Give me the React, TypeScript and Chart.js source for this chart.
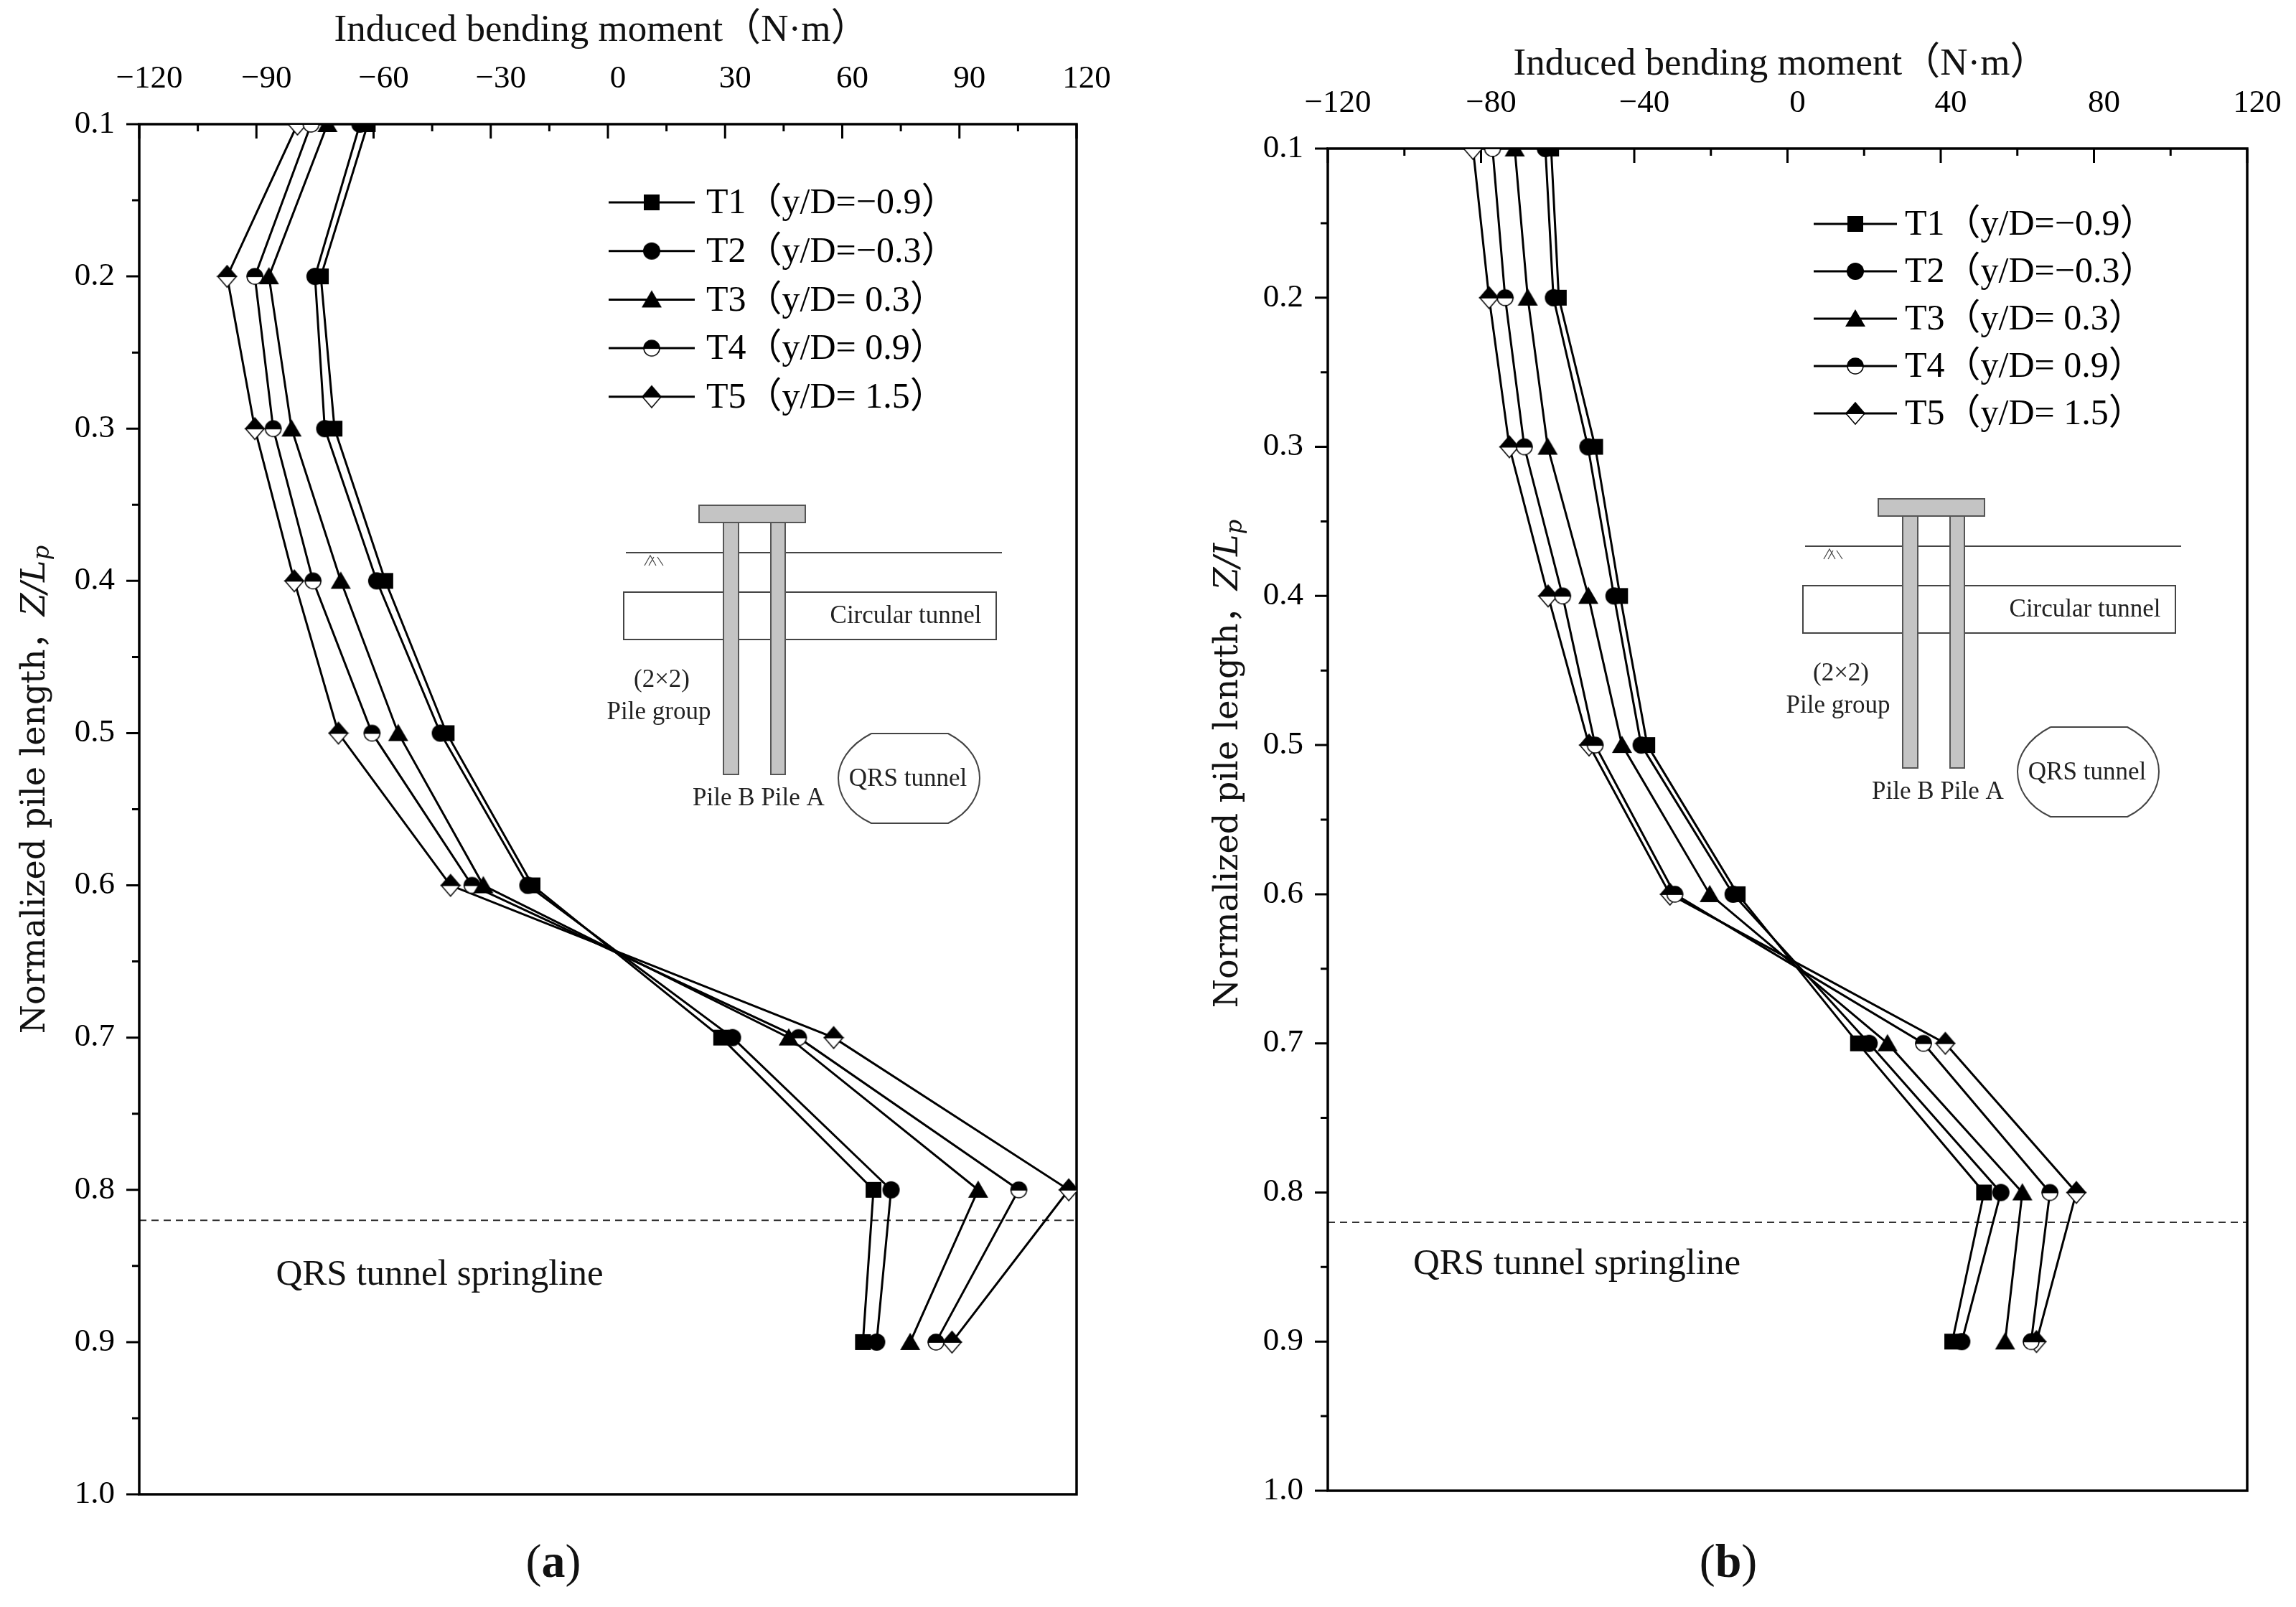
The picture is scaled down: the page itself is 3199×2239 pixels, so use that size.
import React, { useEffect, useRef } from 'react';
import { Chart, registerables } from 'chart.js';

Chart.register(...registerables);

// normalized pile length Z/Lp (shared by every series)
const depth = [0.1, 0.2, 0.3, 0.4, 0.5, 0.6, 0.7, 0.8, 0.9];

const seriesNames = ['T1（y/D=−0.9）', 'T2（y/D=−0.3）', 'T3（y/D= 0.3）', 'T4（y/D= 0.9）', 'T5（y/D= 1.5）'];

// panel (a): induced bending moment, N·m
const momentA_T1 = [-61.5, -73.5, -70, -57, -41.3, -19.3, 29, 68, 65.3];
const momentA_T2 = [-63.5, -75, -72.5, -59.2, -42.9, -20.5, 31.9, 72.5, 68.8];
const momentA_T3 = [-71.8, -86.8, -81, -68.4, -53.7, -31.9, 46.3, 94.8, 77.4];
const momentA_T4 = [-76, -90.4, -85.7, -75.5, -60.4, -34.8, 48.8, 105.2, 84];
const momentA_T5 = [-79.5, -97.5, -90.4, -80.3, -69, -40.3, 57.8, 118, 88.1];

// panel (b)
const momentB_T1 = [-61.7, -59.7, -50.2, -43.7, -36.6, -13, 18.4, 51.3, 43];
const momentB_T2 = [-63.2, -61.1, -52.1, -45.3, -38.2, -14.2, 21.3, 55.7, 45.5];
const momentB_T3 = [-71.2, -67.8, -62.6, -52, -43.2, -20.3, 26.1, 61.3, 56.8];
const momentB_T4 = [-77, -73.7, -68.7, -58.7, -50.2, -29.4, 35.5, 68.5, 63.6];
const momentB_T5 = [-82.1, -77.9, -72.6, -62.5, -51.8, -30.7, 41.2, 75.4, 65];

const springlineDepth = 0.82;

const SERIF = '"Liberation Serif", "Times New Roman", "Noto Sans CJK SC", serif';
const WIDE_SERIF = '"DejaVu Serif", "Noto Sans CJK SC", serif';

function makeMarker(kind: string): HTMLCanvasElement {
  const c = document.createElement('canvas');
  const w = 30;
  const h = kind === 'diamond' ? 34 : 30;
  c.width = w;
  c.height = h;
  const g = c.getContext('2d')!;
  const cx = w / 2;
  const cy = h / 2;
  g.fillStyle = '#000';
  g.strokeStyle = '#000';
  g.lineWidth = 1.5;
  if (kind === 'square') {
    g.fillRect(cx - 11, cy - 11, 22, 22);
  } else if (kind === 'circle') {
    g.beginPath();
    g.arc(cx, cy, 12, 0, Math.PI * 2);
    g.fill();
  } else if (kind === 'triangle') {
    g.beginPath();
    g.moveTo(cx, cy - 13);
    g.lineTo(cx + 14, cy + 11);
    g.lineTo(cx - 14, cy + 11);
    g.closePath();
    g.fill();
  } else if (kind === 'halfCircle') {
    g.beginPath();
    g.arc(cx, cy, 11, 0, Math.PI);
    g.closePath();
    g.fillStyle = '#fff';
    g.fill();
    g.stroke();
    g.beginPath();
    g.arc(cx, cy, 11, Math.PI, Math.PI * 2);
    g.closePath();
    g.fillStyle = '#000';
    g.fill();
    g.stroke();
  } else {
    // black up-triangle over a white down-triangle
    g.beginPath();
    g.moveTo(cx - 13, cy);
    g.lineTo(cx + 13, cy);
    g.lineTo(cx, cy + 15);
    g.closePath();
    g.fillStyle = '#fff';
    g.fill();
    g.stroke();
    g.beginPath();
    g.moveTo(cx - 13, cy);
    g.lineTo(cx + 13, cy);
    g.lineTo(cx, cy - 15);
    g.closePath();
    g.fillStyle = '#000';
    g.fill();
    g.stroke();
  }
  return c;
}

interface PanelSpec {
  series: number[][];
  xStep: number;
  left: number;
  width: number;
  area: { left: number; top: number; right: number; bottom: number };
  xTitle: { x: number; y: number };
  yTitle: { x: number; y: number };
  legend: { dx: number; dy: number; lineLen: number; textDx: number; rowGap: number };
  inset: { dx: number; dy: number };
  springline: { x: number; y: number };
  tag: string;
  tagPos: { x: number; y: number };
}

const HEIGHT = 2239;

const panelA: PanelSpec = {
  series: [momentA_T1, momentA_T2, momentA_T3, momentA_T4, momentA_T5],
  xStep: 30,
  left: 0,
  width: 1600,
  area: { left: 194, top: 173, right: 1500, bottom: 2082 },
  xTitle: { x: 838, y: 43 },
  yTitle: { x: 50, y: 1100 },
  legend: { dx: 654, dy: 109, lineLen: 120, textDx: 790, rowGap: 67.7 },
  inset: { dx: 780, dy: 531 },
  springline: { x: -85, y: 0.856 },
  tag: 'a',
  tagPos: { x: 771, y: 2180 },
};

const panelB: PanelSpec = {
  series: [momentB_T1, momentB_T2, momentB_T3, momentB_T4, momentB_T5],
  xStep: 40,
  left: 1600,
  width: 1599,
  area: { left: 250, top: 207, right: 1531, bottom: 2077 },
  xTitle: { x: 881, y: 90 },
  yTitle: { x: 112, y: 1064 },
  legend: { dx: 677, dy: 105, lineLen: 116, textDx: 804, rowGap: 66 },
  inset: { dx: 767, dy: 488 },
  springline: { x: -97.7, y: 0.848 },
  tag: 'b',
  tagPos: { x: 808, y: 2180 },
};

function fmtX(v: number) {
  return v < 0 ? '−' + Math.abs(v) : String(v);
}

function drawInset(ctx: CanvasRenderingContext2D, ox: number, oy: number) {
  ctx.save();
  ctx.strokeStyle = '#444';
  ctx.lineWidth = 2;
  // ground surface
  ctx.beginPath();
  ctx.moveTo(ox - 102, oy + 66);
  ctx.lineTo(ox + 422, oy + 66);
  ctx.stroke();
  // soil hatch
  ctx.lineWidth = 1.2;
  ctx.beginPath();
  ctx.moveTo(ox - 76, oy + 84);
  ctx.lineTo(ox - 68, oy + 70);
  ctx.lineTo(ox - 60, oy + 84);
  ctx.moveTo(ox - 70, oy + 84);
  ctx.lineTo(ox - 63, oy + 72);
  ctx.moveTo(ox - 58, oy + 72);
  ctx.lineTo(ox - 50, oy + 84);
  ctx.stroke();
  // circular tunnel box
  ctx.lineWidth = 2;
  ctx.strokeRect(ox - 105, oy + 121, 519, 66);
  // piles and cap
  ctx.fillStyle = '#c4c4c4';
  ctx.strokeStyle = '#555';
  ctx.fillRect(ox + 34, oy + 24, 21, 351);
  ctx.strokeRect(ox + 34, oy + 24, 21, 351);
  ctx.fillRect(ox + 100, oy + 24, 20, 351);
  ctx.strokeRect(ox + 100, oy + 24, 20, 351);
  ctx.fillRect(ox, oy, 148, 24);
  ctx.strokeRect(ox, oy, 148, 24);
  // QRS tunnel outline
  ctx.strokeStyle = '#444';
  ctx.beginPath();
  ctx.moveTo(ox + 240, oy + 318);
  ctx.lineTo(ox + 347, oy + 318);
  ctx.bezierCurveTo(ox + 380, oy + 335, ox + 391, oy + 360, ox + 391, oy + 380);
  ctx.bezierCurveTo(ox + 391, oy + 402, ox + 378, oy + 428, ox + 347, oy + 443);
  ctx.lineTo(ox + 240, oy + 443);
  ctx.bezierCurveTo(ox + 207, oy + 428, ox + 194, oy + 402, ox + 194, oy + 380);
  ctx.bezierCurveTo(ox + 194, oy + 360, ox + 207, oy + 335, ox + 240, oy + 318);
  ctx.stroke();
  // labels
  ctx.fillStyle = '#222';
  ctx.font = `35px ${SERIF}`;
  ctx.textAlign = 'center';
  ctx.textBaseline = 'middle';
  ctx.fillText('Circular tunnel', ox + 288, oy + 155);
  ctx.fillText('(2×2)', ox - 52, oy + 244);
  ctx.fillText('Pile group', ox - 56, oy + 289);
  ctx.fillText('Pile B Pile A', ox + 83, oy + 409);
  ctx.fillText('QRS tunnel', ox + 291, oy + 382);
  ctx.restore();
}

const Panel: React.FC<{ spec: PanelSpec }> = ({ spec }) => {
  const canvasRef = useRef<HTMLCanvasElement>(null);
  const chartRef = useRef<Chart | null>(null);

  useEffect(() => {
    if (!canvasRef.current) return;
    const ctx = canvasRef.current.getContext('2d');
    if (!ctx) return;
    if (chartRef.current) chartRef.current.destroy();

    const markers = ['square', 'circle', 'triangle', 'halfCircle', 'diamond'].map(makeMarker);

    const decor = {
      id: 'decor',
      beforeDatasetsDraw(chart: any) {
        const c: CanvasRenderingContext2D = chart.ctx;
        const { left, top, right, bottom } = chart.chartArea;
        const xs = chart.scales.x;
        const ys = chart.scales.y;
        c.save();
        // springline
        const yd = ys.getPixelForValue(springlineDepth);
        c.strokeStyle = '#333';
        c.lineWidth = 2;
        c.setLineDash([10, 7]);
        c.beginPath();
        c.moveTo(left, yd);
        c.lineTo(right, yd);
        c.stroke();
        c.setLineDash([]);
        c.fillStyle = '#111';
        c.font = `51px ${SERIF}`;
        c.textAlign = 'left';
        c.textBaseline = 'middle';
        c.fillText('QRS tunnel springline', xs.getPixelForValue(spec.springline.x), ys.getPixelForValue(spec.springline.y));
        // inset sketch
        drawInset(c, left + spec.inset.dx, top + spec.inset.dy);
        // ticks: top axis inward, left axis outward
        c.strokeStyle = '#000';
        c.lineWidth = 3;
        c.beginPath();
        for (let v = -120; v <= 120 + 1e-9; v += spec.xStep / 2) {
          const major = Math.abs(v / spec.xStep - Math.round(v / spec.xStep)) < 1e-6;
          const px = xs.getPixelForValue(v);
          c.moveTo(px, top);
          c.lineTo(px, top + (major ? 20 : 10));
        }
        for (let k = 2; k <= 20; k++) {
          const v = k * 0.05;
          const major = k % 2 === 0;
          const py = ys.getPixelForValue(v);
          c.moveTo(left, py);
          c.lineTo(left - (major ? 18 : 10), py);
        }
        c.stroke();
        // frame
        c.lineWidth = 3.5;
        c.strokeRect(left, top, right - left, bottom - top);
        c.restore();
      },
      afterDraw(chart: any) {
        const c: CanvasRenderingContext2D = chart.ctx;
        const { left, top } = chart.chartArea;
        c.save();
        // legend
        const lg = spec.legend;
        seriesNames.forEach((name, i) => {
          const y = top + lg.dy + i * lg.rowGap;
          const x0 = left + lg.dx;
          c.strokeStyle = '#000';
          c.lineWidth = 3;
          c.beginPath();
          c.moveTo(x0, y);
          c.lineTo(x0 + lg.lineLen, y);
          c.stroke();
          const m = markers[i];
          c.drawImage(m, x0 + lg.lineLen / 2 - m.width / 2, y - m.height / 2);
          c.fillStyle = '#000';
          c.font = `50px ${SERIF}`;
          c.textAlign = 'left';
          c.textBaseline = 'middle';
          c.fillText(name, left + lg.textDx, y + 2);
        });
        // x axis title
        c.fillStyle = '#111';
        c.font = `53px ${SERIF}`;
        c.textAlign = 'center';
        c.textBaseline = 'middle';
        c.fillText('Induced bending moment（N·m）', spec.xTitle.x, spec.xTitle.y);
        // y axis title, rotated, with italic Z/Lp
        const parts = [
          { t: 'Normalized pile length，', f: `46px ${WIDE_SERIF}`, dy: 0 },
          { t: 'Z/L', f: `italic 46px ${WIDE_SERIF}`, dy: 0 },
          { t: 'p', f: `italic 32px ${WIDE_SERIF}`, dy: 10 },
        ];
        let total = 0;
        const widths = parts.map((p) => {
          c.font = p.f;
          const w = c.measureText(p.t).width;
          total += w;
          return w;
        });
        c.translate(spec.yTitle.x, spec.yTitle.y);
        c.rotate(-Math.PI / 2);
        c.textAlign = 'left';
        c.textBaseline = 'middle';
        let cx = -total / 2;
        parts.forEach((p, i) => {
          c.font = p.f;
          c.fillText(p.t, cx, p.dy);
          cx += widths[i];
        });
        c.setTransform(1, 0, 0, 1, 0, 0);
        // panel tag (a)/(b)
        const tparts = [
          { t: '(', f: `66px ${SERIF}` },
          { t: spec.tag, f: `bold 66px ${SERIF}` },
          { t: ')', f: `66px ${SERIF}` },
        ];
        let tw = 0;
        const tws = tparts.map((p) => {
          c.font = p.f;
          const w = c.measureText(p.t).width;
          tw += w;
          return w;
        });
        let tx = spec.tagPos.x - tw / 2;
        c.textAlign = 'left';
        tparts.forEach((p, i) => {
          c.font = p.f;
          c.fillText(p.t, tx, spec.tagPos.y);
          tx += tws[i];
        });
        c.restore();
      },
    };

    chartRef.current = new Chart(ctx, {
      type: 'scatter',
      data: {
        datasets: spec.series.map((vals, i) => ({
          label: seriesNames[i],
          data: vals.map((v, j) => ({ x: v, y: depth[j] })),
          showLine: true,
          borderColor: '#000',
          borderWidth: 3,
          backgroundColor: '#000',
          pointStyle: markers[i] as any,
          pointRadius: 12,
          pointHoverRadius: 12,
        })),
      },
      options: {
        responsive: false,
        animation: false,
        devicePixelRatio: 1,
        layout: {
          padding: {
            left: 0,
            top: 0,
            right: spec.width - spec.area.right,
            bottom: HEIGHT - spec.area.bottom,
          },
        },
        plugins: { legend: { display: false }, tooltip: { enabled: false } },
        scales: {
          x: {
            type: 'linear',
            position: 'top',
            min: -120,
            max: 120,
            grid: { display: false },
            border: { display: false },
            ticks: {
              stepSize: spec.xStep,
              padding: 28,
              labelOffset: 14,
              color: '#000',
              font: { family: SERIF, size: 45 },
              maxRotation: 0,
              callback: (v: any) => fmtX(Number(v)),
            },
            afterFit: (s: any) => {
              s.height = spec.area.top;
            },
          },
          y: {
            type: 'linear',
            reverse: true,
            min: 0.1,
            max: 1.0,
            grid: { display: false },
            border: { display: false },
            ticks: {
              stepSize: 0.1,
              padding: 26,
              color: '#000',
              font: { family: SERIF, size: 45 },
              callback: (v: any) => Number(v).toFixed(1),
            },
            afterFit: (s: any) => {
              s.width = spec.area.left;
            },
          },
        },
      },
      plugins: [decor],
    });

    return () => {
      if (chartRef.current) {
        chartRef.current.destroy();
        chartRef.current = null;
      }
    };
  }, [spec]);

  return (
    <canvas
      ref={canvasRef}
      width={spec.width}
      height={HEIGHT}
      style={{ position: 'absolute', left: spec.left, top: 0, width: spec.width, height: HEIGHT }}
    />
  );
};

const App: React.FC = () => (
  <div style={{ position: 'absolute', left: 0, top: 0, width: 3199, height: HEIGHT, background: '#fff' }}>
    <Panel spec={panelA} />
    <Panel spec={panelB} />
  </div>
);

export default App;
